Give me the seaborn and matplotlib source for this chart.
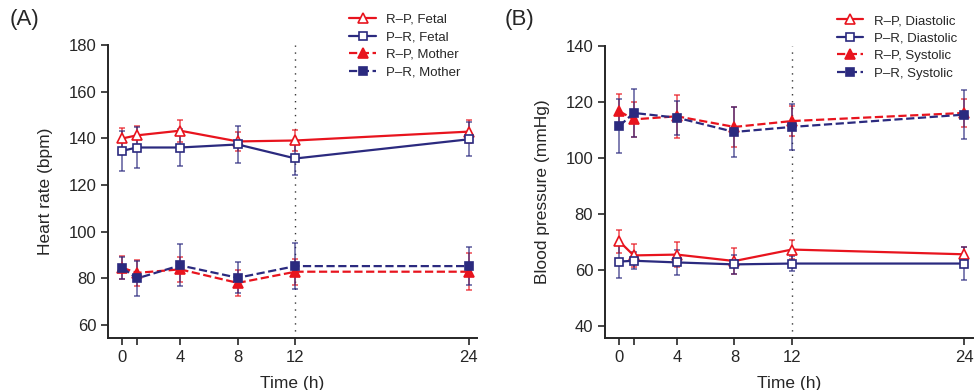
import numpy as np
import pandas as pd
import seaborn as sns
import matplotlib
matplotlib.use("Agg")
import matplotlib.pyplot as plt

# time points (h)
hours = [0, 1, 4, 8, 12, 24]
tick_pos = [0, 1, 4, 8, 12, 24]
tick_lab = ["0", "", "4", "8", "12", "24"]

# (A) heart rate, mean and SD
rp_fetal = [140.0, 141.3, 143.3, 138.7, 139.1, 142.9]
rp_fetal_sd = [4.5, 4.2, 4.7, 4.2, 4.5, 5.0]
pr_fetal = [134.7, 136.1, 136.1, 137.4, 131.4, 139.6]
pr_fetal_sd = [8.6, 8.7, 8.1, 8.1, 7.0, 7.3]
rp_mother = [84.6, 82.4, 83.9, 78.1, 82.9, 82.9]
rp_mother_sd = [5.0, 5.5, 5.4, 5.4, 5.5, 7.8]
pr_mother = [84.6, 80.0, 85.6, 80.3, 85.3, 85.3]
pr_mother_sd = [4.7, 7.7, 9.0, 6.7, 9.7, 8.0]

# (B) blood pressure, mean and SD
rp_dia = [70.2, 65.2, 65.5, 63.2, 67.3, 65.6]
rp_dia_sd = [4.0, 4.2, 4.4, 4.5, 3.5, 2.6]
pr_dia = [63.0, 63.3, 62.7, 62.0, 62.3, 62.3]
pr_dia_sd = [6.0, 3.0, 4.6, 3.5, 2.7, 5.8]
rp_sys = [116.7, 113.8, 114.9, 111.1, 113.2, 116.1]
rp_sys_sd = [6.0, 6.2, 7.6, 7.0, 5.5, 5.0]
pr_sys = [111.4, 116.1, 114.4, 109.3, 111.1, 115.5]
pr_sys_sd = [9.7, 8.7, 6.1, 8.8, 8.3, 8.7]

RED = "#e8141e"
NAVY = "#2b2a7f"

sns.set_style("ticks")
plt.rcParams["font.family"] = ["Liberation Sans", "DejaVu Sans"]
plt.rcParams["font.size"] = 11


def draw_series(ax, y, sd, label, color, marker, ls, filled):
    df = pd.DataFrame({"t": hours, "v": y})
    ax.errorbar(hours, y, yerr=sd, fmt="none", ecolor=color, alpha=0.7,
                elinewidth=1.2, capsize=2.5, capthick=1.2, zorder=2)
    msize = 7.5 if marker == "^" else 6
    sns.lineplot(data=df, x="t", y="v", ax=ax, color=color, linestyle=ls,
                 linewidth=1.6, marker=marker, markersize=msize,
                 markerfacecolor=color if filled else "white",
                 markeredgecolor=color, markeredgewidth=1.2,
                 label=label, zorder=3)


def style_axes(ax, ylim, yticks, ylabel):
    ax.set_xlim(-1, 24.6)
    ax.set_ylim(*ylim)
    ax.set_xticks(tick_pos)
    ax.set_xticklabels(tick_lab)
    ax.set_yticks(yticks)
    ax.axvline(12, color="#333333", linestyle=(0, (1, 4)), linewidth=1.0, zorder=1)
    ax.set_xlabel("Time (h)", fontsize=12.5, labelpad=8)
    ax.set_ylabel(ylabel, fontsize=12.5, labelpad=11)
    ax.tick_params(direction="out", length=5, width=1.2, labelsize=12)
    for s in ["left", "bottom"]:
        ax.spines[s].set_linewidth(1.4)
    sns.despine(ax=ax)
    ax.legend(loc="upper right", bbox_to_anchor=(0.97, 1.125), frameon=False,
              fontsize=9.5, handlelength=2.0, labelspacing=0.4,
              handletextpad=0.8, borderaxespad=0)


fig = plt.figure(figsize=(9.74, 3.9), dpi=100)
axA = fig.add_axes([0.1109, 0.1333, 0.379, 0.7513])
axB = fig.add_axes([0.6211, 0.1333, 0.378, 0.7487])

draw_series(axA, rp_fetal, rp_fetal_sd, "R\u2013P, Fetal", RED, "^", "-", False)
draw_series(axA, pr_fetal, pr_fetal_sd, "P\u2013R, Fetal", NAVY, "s", "-", False)
draw_series(axA, rp_mother, rp_mother_sd, "R\u2013P, Mother", RED, "^", "--", True)
draw_series(axA, pr_mother, pr_mother_sd, "P\u2013R, Mother", NAVY, "s", "--", True)
style_axes(axA, (54.5, 180), [60, 80, 100, 120, 140, 160, 180], "Heart rate (bpm)")

draw_series(axB, rp_dia, rp_dia_sd, "R\u2013P, Diastolic", RED, "^", "-", False)
draw_series(axB, pr_dia, pr_dia_sd, "P\u2013R, Diastolic", NAVY, "s", "-", False)
draw_series(axB, rp_sys, rp_sys_sd, "R\u2013P, Systolic", RED, "^", "--", True)
draw_series(axB, pr_sys, pr_sys_sd, "P\u2013R, Systolic", NAVY, "s", "--", True)
style_axes(axB, (35.7, 140), [40, 60, 80, 100, 120, 140], "Blood pressure (mmHg)")

fig.text(0.01, 0.935, "(A)", fontsize=16)
fig.text(0.518, 0.935, "(B)", fontsize=16)

fig.savefig("out.png", dpi=100)
